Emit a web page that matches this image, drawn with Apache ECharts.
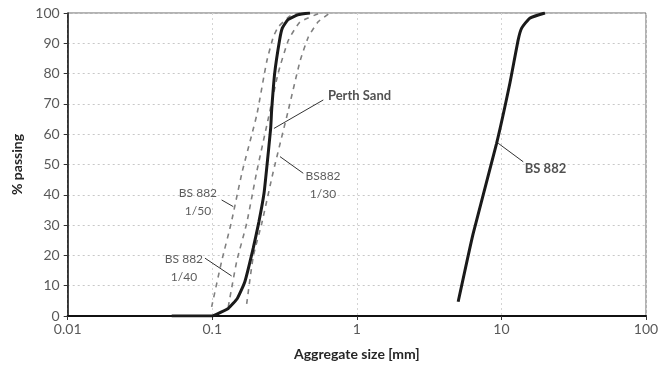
<!DOCTYPE html>
<html>
<head>
<meta charset="utf-8">
<script src="https://cdn.jsdelivr.net/npm/echarts@6/dist/echarts.min.js"></script>
<style>html,body{margin:0;padding:0;background:#fff}#c{width:662px;height:372px}</style>
</head>
<body>
<div id="c"></div>
<script>
// Aggregate size [mm] vs % passing
const perthSand = [[0.0524,0],[0.1,0],[0.104,0.3],[0.129,2.5],[0.149,5.8],[0.168,11.3],[0.192,22.4],[0.21,31],[0.228,40.5],[0.237,48],[0.2535,62],[0.2575,68],[0.27,80],[0.292,91],[0.305,95],[0.334,97.8],[0.39,99.4],[0.474,100]];
const bs882_1_50 = [[0.099,3],[0.116,18],[0.135,30.6],[0.161,47.6],[0.203,66.3],[0.238,84],[0.264,92],[0.286,95.4],[0.345,99],[0.404,100]];
const bs882_1_40 = [[0.129,3],[0.1475,18],[0.173,30.6],[0.203,47.6],[0.242,64.4],[0.285,80],[0.336,91],[0.404,97],[0.556,100]];
const bs882_1_30 = [[0.173,4],[0.192,19.6],[0.22,30.6],[0.264,47.6],[0.336,68],[0.404,84],[0.461,92],[0.538,97],[0.652,100]];
const bs882 = [[5.02,4.7],[6.38,27.3],[9.26,57],[11.45,76.9],[13.07,91.2],[13.8,95],[15.7,98.3],[20.0,100]];

const xMin = 0.01, xMax = 100;
const yMin = 0, yMax = 100, yStep = 10;

// annotation leader lines (data coords) and labels
const leaders = [
  [[0.267,61.9],[0.586,71.3]],
  [[9.5,57],[14.15,50.9]],
  [[0.294,52.6],[0.426,47.1]],
  [[0.116,38.3],[0.1397,36.1]],
  [[0.089,19.1],[0.1362,13.2]]
];
const labelsLeft = [
  {value:[0.631,72.6], text:'Perth Sand'},
  {value:[14.5,48.5], text:'BS 882'}
];
const labelsCenter = [
  {value:[0.583,43.1], text:'BS882\n1/30'},
  {value:[0.0796,37.6], text:'BS 882\n1/50'},
  {value:[0.0637,15.7], text:'BS 882\n1/40'}
];

const FONT = 'Lato, "Open Sans", sans-serif';
const solidStyle = {color:'#1a1a1a', width:3};
const dashStyle = {color:'#808080', width:1.6, type:[5,5]};

const chart = echarts.init(document.getElementById('c'), null, {renderer:'canvas'});
chart.setOption({
  animation:false,
  backgroundColor:'#fff',
  grid:{left:67.7, right:16, top:13, bottom:56, show:true, borderColor:'#666', borderWidth:1},
  xAxis:{
    type:'log', logBase:10, min:xMin, max:xMax,
    name:'Aggregate size [mm]', nameLocation:'middle', nameGap:31,
    nameTextStyle:{fontFamily:FONT, fontSize:14, fontWeight:'bold', color:'#262626'},
    axisLine:{lineStyle:{color:'#111', width:2}},
    axisTick:{show:true, length:4, lineStyle:{color:'#333'}},
    axisLabel:{fontFamily:FONT, fontSize:14, color:'#595959', margin:6},
    splitLine:{show:true, lineStyle:{color:'#d4d4d4', type:[2,3]}},
    minorTick:{show:false}
  },
  yAxis:{
    type:'value', min:yMin, max:yMax, interval:yStep,
    name:'% passing', nameLocation:'middle', nameGap:42,
    nameTextStyle:{fontFamily:FONT, fontSize:14, fontWeight:'bold', color:'#262626'},
    axisLine:{show:true, lineStyle:{color:'#111', width:1.5}},
    axisTick:{show:true, length:4, lineStyle:{color:'#333'}},
    axisLabel:{fontFamily:FONT, fontSize:14, color:'#595959', margin:8},
    splitLine:{show:true, lineStyle:{color:'#c8c8c8', type:[2,3]}}
  },
  series:[
    {name:'BS 882 1/50', type:'line', data:bs882_1_50, symbol:'none', smooth:0.15, lineStyle:dashStyle, z:2},
    {name:'BS 882 1/40', type:'line', data:bs882_1_40, symbol:'none', smooth:0.15, lineStyle:dashStyle, z:2},
    {name:'BS 882 1/30', type:'line', data:bs882_1_30, symbol:'none', smooth:0.15, lineStyle:dashStyle, z:2},
    {name:'Perth Sand', type:'line', data:perthSand, symbol:'none', smooth:0.15, lineStyle:solidStyle, z:3},
    {name:'BS 882', type:'line', data:bs882, symbol:'none', smooth:0.15, lineStyle:solidStyle, z:3},
    {name:'leaders', type:'line', data:[], symbol:'none',
      markLine:{silent:true, symbol:['none','none'], label:{show:false},
        lineStyle:{color:'#333', width:1, type:'solid'},
        data:leaders.map(l=>[{coord:l[0]},{coord:l[1]}])}},
    {name:'labelsLeft', type:'scatter', symbolSize:0, data:labelsLeft.map(d=>({value:d.value, name:d.text})),
      label:{show:true, position:'right', distance:0, formatter:p=>p.name,
        fontFamily:FONT, fontSize:13, fontWeight:'bold', color:'#262626'}, z:5},
    {name:'labelsCenter', type:'scatter', symbolSize:0, data:labelsCenter.map(d=>({value:d.value, name:d.text})),
      label:{show:true, position:'inside', formatter:p=>p.name, align:'center',
        fontFamily:FONT, fontSize:12, lineHeight:18, color:'#333'}, z:5}
  ]
});
</script>
</body>
</html>
